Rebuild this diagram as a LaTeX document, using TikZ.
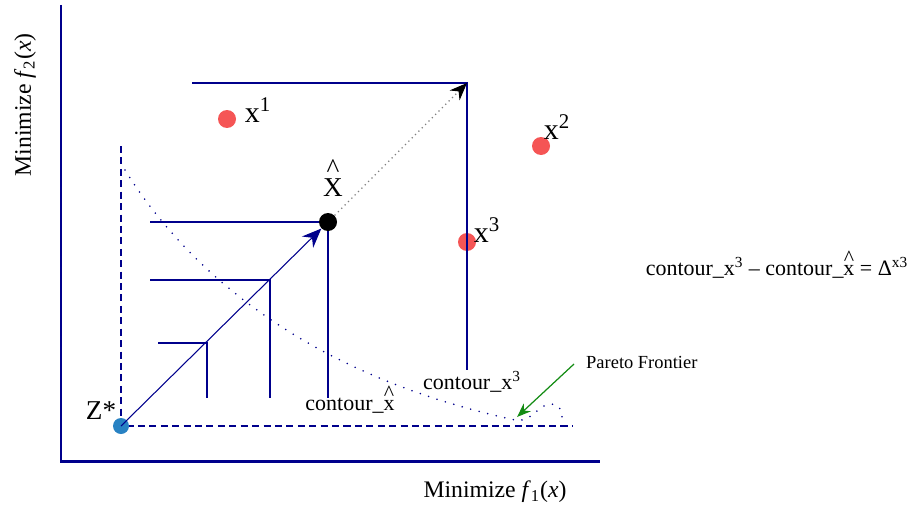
\documentclass[tikz,border=0pt]{standalone}
\usepackage{fontspec}
\setmainfont{Liberation Serif}
\usetikzlibrary{arrows.meta}

\definecolor{navyline}{RGB}{0,0,140}
\definecolor{ptred}{RGB}{245,85,85}
\definecolor{zblue}{RGB}{40,130,195}
\definecolor{arrgreen}{RGB}{20,140,20}

% caret put over a letter
\newcommand{\caretover}[2][0.45em]{\ooalign{#2\cr\hidewidth\raisebox{#1}{\textasciicircum}\hidewidth\cr}}

\tikzset{
  axisline/.style={navyline, line width=1.7pt},
  contour/.style={navyline, line width=1.1pt},
  refline/.style={navyline, line width=1.1pt, dash pattern=on 4pt off 2.5pt},
  solpt/.style={circle, fill=ptred, minimum size=0.36cm, inner sep=0pt},
  ptlabel/.style={font=\fontsize{17}{17}\selectfont, inner sep=1pt},
  txtlabel/.style={font=\fontsize{12.5}{13}\selectfont, inner sep=1pt}
}

\begin{document}
\begin{tikzpicture}[x=0.02cm, y=-0.02cm]
  \useasboundingbox (0,0) rectangle (911,510);

  % axes
  \coordinate (origin) at (61,461);
  \coordinate (ytop) at (61,5);
  \coordinate (xend) at (600,461);
  \draw[axisline] (ytop) -- (origin) -- (xend);
  \node[font=\fontsize{13.5}{14}\selectfont] (xaxis) at (495,492) {Minimize \textit{f}\textsubscript{1}(\textit{x})};
  \node[font=\fontsize{13.5}{14}\selectfont, rotate=90] (yaxis) at (25,105) {Minimize \textit{f}\textsubscript{2}(\textit{x})};

  % points
  \node[solpt] (x1) at (227,119) {};
  \node[solpt] (x2) at (541,146) {};
  \node[solpt] (x3) at (467,242) {};
  \node[ptlabel] (x1l) at (258,110) {x\textsuperscript{1}};
  \node[ptlabel] (x2l) at (557,127) {x\textsuperscript{2}};
  \node[ptlabel] (x3l) at (487,230) {x\textsuperscript{3}};

  % contour of x3
  \coordinate (cx3) at (467,83);
  \coordinate (cx3l) at (192,83);
  \coordinate (cx3b) at (467,370);
  \draw[contour] (cx3l) -- (cx3) -- (cx3b);
  \node[txtlabel] (cx3t) at (472,382) {contour\_x\textsuperscript{3}};

  % nested contours
  \coordinate (c1) at (207,343);
  \draw[contour] (158,343) -- (c1) -- (207,398);
  \coordinate (c2) at (270,280);
  \draw[contour] (150,280) -- (c2) -- (270,398);
  \coordinate (c3) at (328,222);
  \draw[contour] (150,222) -- (c3) -- (328,398);
  \node[txtlabel] (cxt) at (350,406) {contour\_\caretover{x}};

  % ideal point and reference lines
  \coordinate (zc) at (121,426);
  \draw[refline] (121,146) -- (zc) -- (572,426);
  \node[circle, fill=zblue, minimum size=0.32cm, inner sep=0pt] (zstar) at (zc) {};
  \node[font=\fontsize{15.5}{16}\selectfont] (zl) at (101,411) {Z*};

  % compromise point
  \node[circle, fill=black, minimum size=0.36cm, inner sep=0pt] (xhat) at (c3) {};
  \node[font=\fontsize{15.5}{16}\selectfont] (xhatl) at (333,188) {\caretover[0.72em]{X}};

  \draw[navyline, line width=0.6pt, -{Stealth[length=11pt, width=9pt]}] (zstar.center) -- (xhat);
  \draw[gray, dotted, line width=0.7pt, -{Stealth[length=10pt, width=8pt, black]}] (xhat) -- (cx3);

  % pareto frontier
  \draw[navyline, line width=1pt, line cap=round, dash pattern=on 0pt off 5pt]
    (125,170) .. controls (200,290) and (330,380) .. (515,420)
    .. controls (532,423) and (538,404) .. (551,404)
    .. controls (561,404) and (562,412) .. (562,420);
  \node[font=\fontsize{10.5}{11}\selectfont, anchor=west] (pareto) at (580,362) {Pareto Frontier};
  \coordinate (ptip) at (517,417);
  \draw[arrgreen, line width=0.7pt, -{Stealth[length=8pt, width=6pt]}] (574,364) -- (ptip);

  % difference of contours
  \node[txtlabel] (eq) at (777,268) {contour\_x\textsuperscript{3} – contour\_\caretover{x} = Δ\textsuperscript{x3}};
\end{tikzpicture}
\end{document}
